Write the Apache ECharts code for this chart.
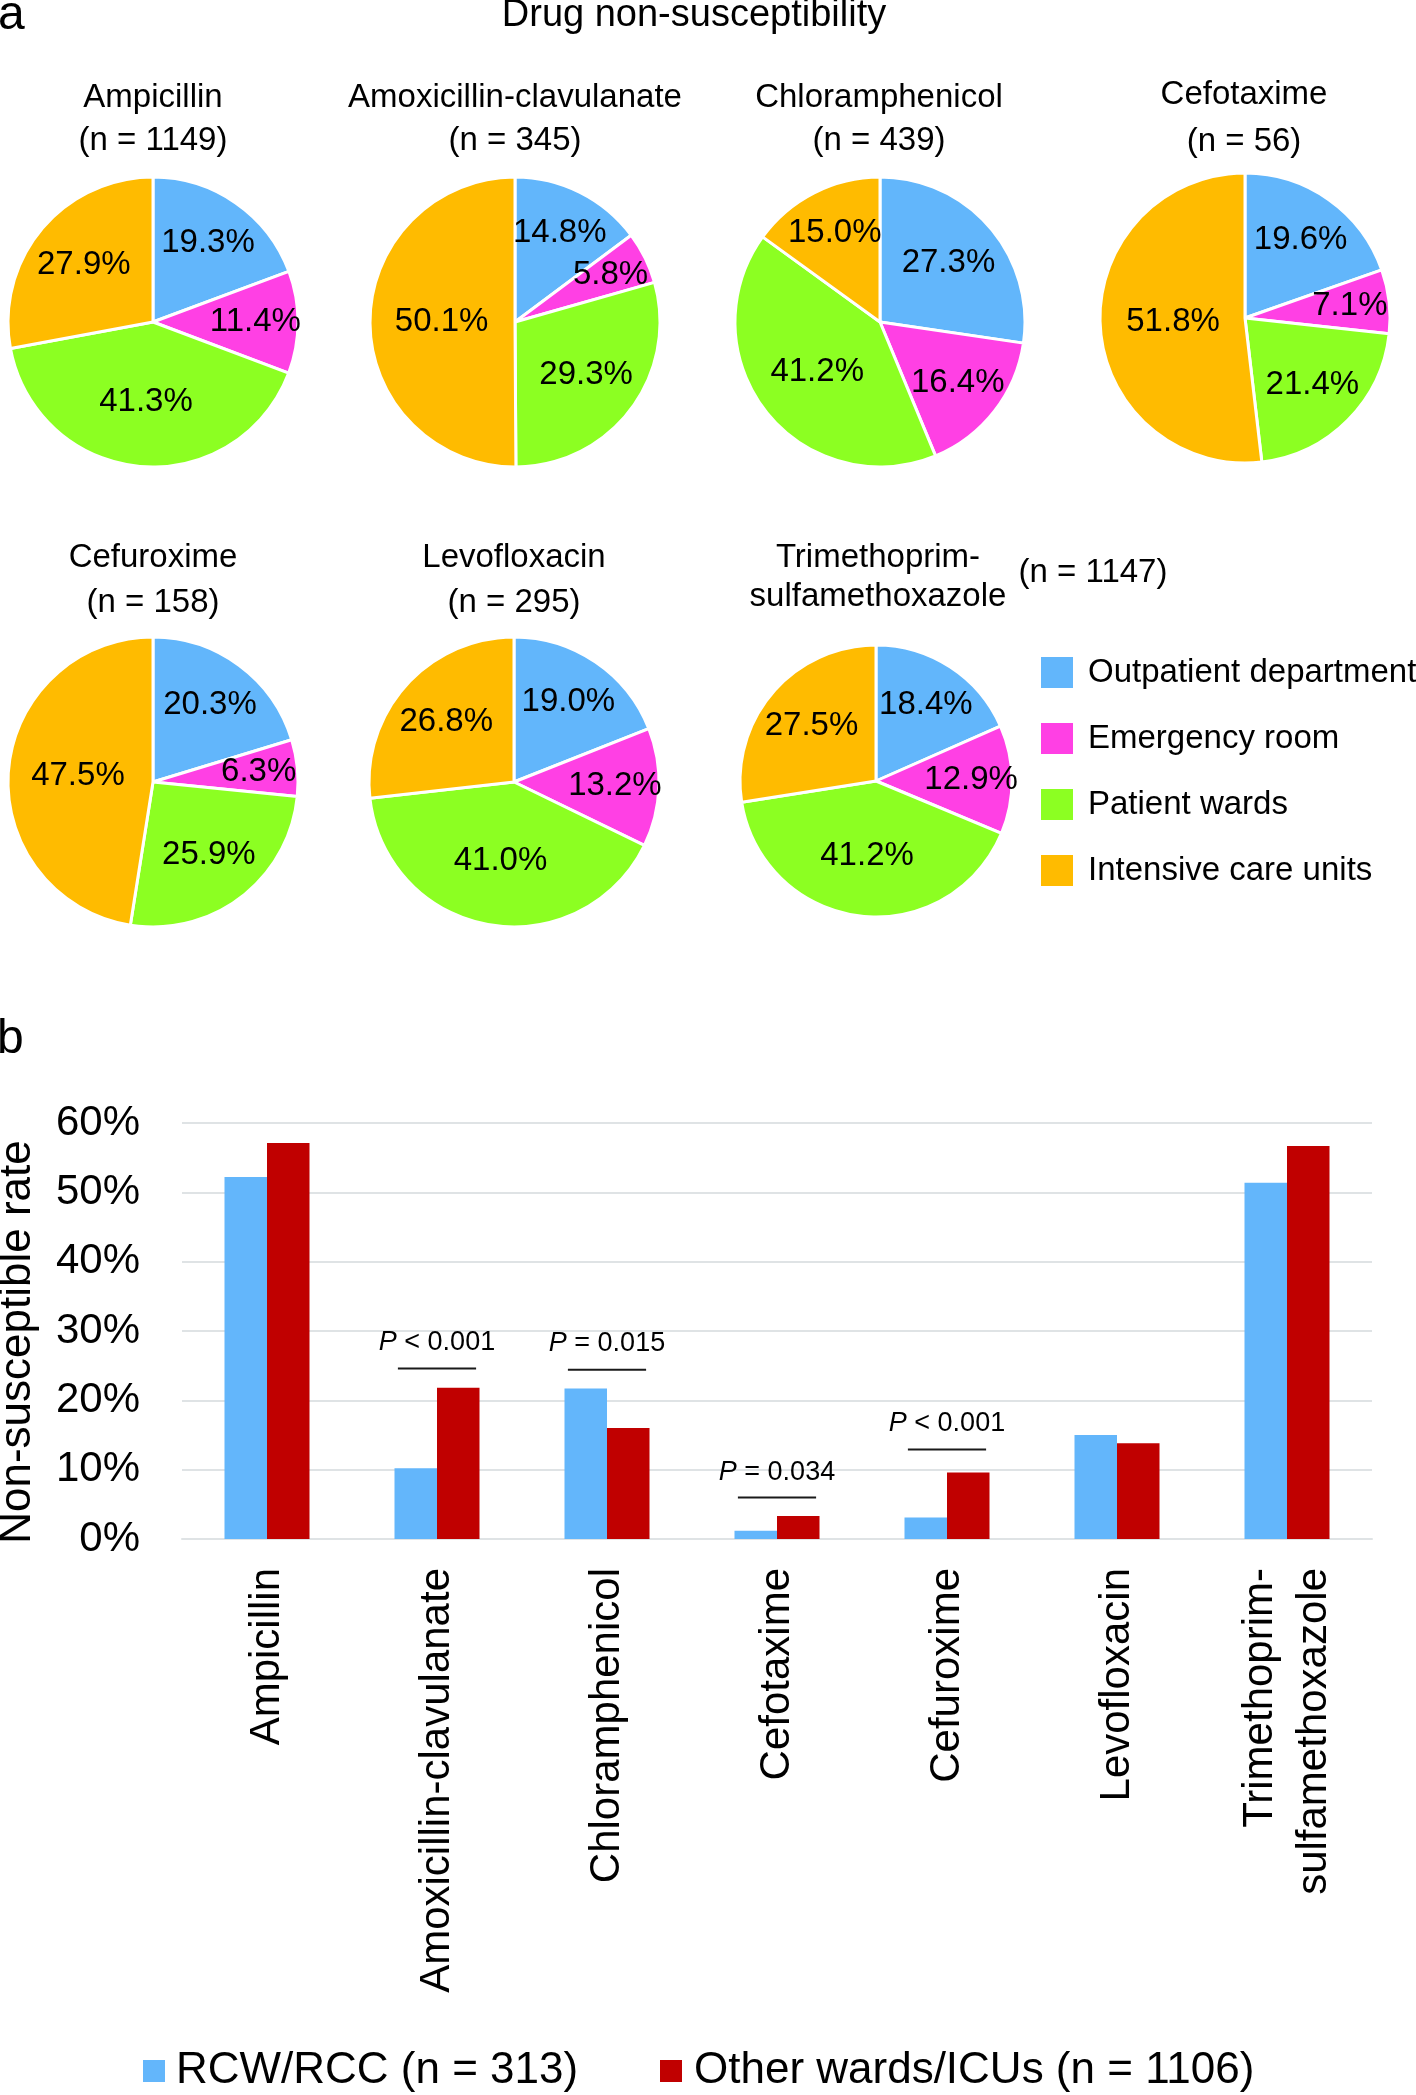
<!DOCTYPE html>
<html><head><meta charset="utf-8">
<script src="https://cdn.jsdelivr.net/npm/echarts@6/dist/echarts.min.js"></script>
<style>html,body{margin:0;padding:0;background:#fff}#c{width:1416px;height:2095px}</style>
</head><body><div id="c"></div>
<script>
const FONT = "'Liberation Sans', Arial, Helvetica, sans-serif";

// ---------- Panel a data ----------
const locations = ['Outpatient department', 'Emergency room', 'Patient wards', 'Intensive care units'];
const locationColors = ['#62b6fb', '#ff40e4', '#8cff22', '#ffbb00'];
const pieDrugs = ['Ampicillin', 'Amoxicillin-clavulanate', 'Chloramphenicol', 'Cefotaxime', 'Cefuroxime', 'Levofloxacin', 'Trimethoprim-\nsulfamethoxazole'];
const pieN = [1149, 345, 439, 56, 158, 295, 1147];
const ampicillinShares = [19.3, 11.4, 41.3, 27.9];
const amoxClavShares = [14.8, 5.8, 29.3, 50.1];
const chloramphenicolShares = [27.3, 16.4, 41.2, 15.0];
const cefotaximeShares = [19.6, 7.1, 21.4, 51.8];
const cefuroximeShares = [20.3, 6.3, 25.9, 47.5];
const levofloxacinShares = [19.0, 13.2, 41.0, 26.8];
const tmpSmxShares = [18.4, 12.9, 41.2, 27.5];
const pieShares = [ampicillinShares, amoxClavShares, chloramphenicolShares, cefotaximeShares, cefuroximeShares, levofloxacinShares, tmpSmxShares];

// ---------- Panel b data ----------
const barCategories = ['Ampicillin', 'Amoxicillin-clavulanate', 'Chloramphenicol', 'Cefotaxime', 'Cefuroxime', 'Levofloxacin', 'Trimethoprim-\nsulfamethoxazole'];
const groupNames = ['RCW/RCC (n = 313)', 'Other wards/ICUs (n = 1106)'];
const rcwRates = [52.2, 10.2, 21.7, 1.2, 3.1, 15.0, 51.4];
const otherRates = [57.1, 21.8, 16.0, 3.3, 9.6, 13.8, 56.7];
const yTicks = [0, 10, 20, 30, 40, 50, 60];
const pCategoryIndex = [1, 2, 3, 4];
const pLineLevel = [24.6, 24.4, 6.0, 12.9];
const pTextLevel = [28.4, 28.2, 9.6, 16.6];
const pText = ['< 0.001', '= 0.015', '= 0.034', '< 0.001'];

// ---------- layout (positions only) ----------
const pieLayout = [
  { c: [153, 322], r: 145 }, { c: [515, 322], r: 145 }, { c: [880, 322], r: 145 }, { c: [1245, 318], r: 145 },
  { c: [153, 782], r: 145 }, { c: [514, 782], r: 145 }, { c: [876, 781], r: 136 }
];
const titleLayout = [
  { x: 153, top: 76, lh: 43 }, { x: 515, top: 76, lh: 43 }, { x: 879, top: 76, lh: 43 }, { x: 1244, top: 71, lh: 47 },
  { x: 153, top: 535, lh: 45 }, { x: 514, top: 535, lh: 45 }, { x: 878, top: 538, lh: 39 }
];
const RING_MID = 0.62; // label ring midpoint as fraction of radius

const chart = echarts.init(document.getElementById('c'), null, { renderer: 'canvas' });

const titles = [
  { text: 'a', left: -2, top: -8, padding: 0, textStyle: { fontFamily: FONT, fontSize: 48, fontWeight: 'normal', color: '#000', lineHeight: 48 } },
  { text: 'Drug non-susceptibility', left: 694, textAlign: 'center', top: -3, padding: 0, textStyle: { fontFamily: FONT, fontSize: 38, fontWeight: 'normal', color: '#000', lineHeight: 38 } },
  { text: 'b', left: -3, top: 1016, padding: 0, textStyle: { fontFamily: FONT, fontSize: 48, fontWeight: 'normal', color: '#000', lineHeight: 48 } }
];
pieDrugs.forEach((d, i) => {
  const L = titleLayout[i];
  const txt = i === 6 ? d : d + '\n(n = ' + pieN[i] + ')';
  titles.push({ text: txt, left: L.x, textAlign: 'center', top: L.top, padding: 0,
    textStyle: { fontFamily: FONT, fontSize: 33, fontWeight: 'normal', color: '#000', lineHeight: L.lh } });
});
titles.push({ text: '(n = ' + pieN[6] + ')', left: 1093, textAlign: 'center', top: 556, padding: 0,
  textStyle: { fontFamily: FONT, fontSize: 33, fontWeight: 'normal', color: '#000', lineHeight: 33 } });

const series = [];
// visible slices
pieShares.forEach((vals, i) => {
  const L = pieLayout[i];
  series.push({
    type: 'pie', center: L.c, radius: L.r, startAngle: 90, clockwise: true,
    silent: true, animation: false,
    data: vals.map((v, k) => ({ name: locations[k], value: v, itemStyle: { color: locationColors[k] } })),
    itemStyle: { borderColor: '#fff', borderWidth: 3 },
    label: { show: false }, labelLine: { show: false }
  });
});
// label rings (transparent); labels are then pulled in/out along their own ray
// (big slices keep labels nearer the centre, small ones nearer the rim)
pieShares.forEach((vals, i) => {
  const L = pieLayout[i];
  series.push({
    type: 'pie', center: L.c, radius: [L.r * (2 * RING_MID - 1), L.r], startAngle: 90, clockwise: true,
    silent: true, animation: false, legendHoverLink: false,
    data: vals.map((v, k) => ({ name: locations[k], value: v })),
    itemStyle: { color: 'rgba(0,0,0,0)', borderWidth: 0 },
    label: { show: true, position: 'inside', fontFamily: FONT, fontSize: 33, color: '#000',
      textBorderWidth: 0, formatter: p => p.value.toFixed(1) + '%' },
    labelLine: { show: false },
    labelLayout: params => {
      const r = params.labelRect;
      const lx = r.x + r.width / 2, ly = r.y + r.height / 2;
      const share = vals[params.dataIndex];
      const f = Math.min(0.76, Math.max(0.46, 0.74 - 0.005 * share));
      const k = f / RING_MID;
      return { x: L.c[0] + (lx - L.c[0]) * k, y: L.c[1] + (ly - L.c[1]) * k, align: 'center', verticalAlign: 'middle' };
    }
  });
});

series.push({
  type: 'bar', name: groupNames[0], data: rcwRates, barWidth: '25%', barGap: '0%',
  itemStyle: { color: '#63b6fb' }, animation: false, silent: true
});
series.push({
  type: 'bar', name: groupNames[1], data: otherRates, barWidth: '25%', barGap: '0%',
  itemStyle: { color: '#c00000' }, animation: false, silent: true
});
series.push({
  type: 'custom', name: 'pvalues', coordinateSystem: 'cartesian2d', animation: false, silent: true, z: 5,
  data: pCategoryIndex.map((c, i) => [c, pLineLevel[i], pTextLevel[i]]),
  encode: { x: 0, y: 1 },
  renderItem: (params, api) => {
    const p = api.coord([api.value(0), api.value(1)]);
    const t = api.coord([api.value(0), api.value(2)]);
    const band = api.size([1, 0])[0];
    const half = band * 0.23;
    return {
      type: 'group', children: [
        { type: 'line', shape: { x1: p[0] - half, y1: p[1], x2: p[0] + half, y2: p[1] }, style: { stroke: '#1a1a1a', lineWidth: 2 } },
        { type: 'text', x: t[0], y: t[1], style: {
            text: '{i|P} ' + pText[params.dataIndex], align: 'center', verticalAlign: 'middle',
            fontFamily: FONT, fontSize: 27, fill: '#000',
            rich: { i: { fontStyle: 'italic', fontFamily: FONT, fontSize: 27, fill: '#000' } } } }
      ]
    };
  }
});

const option = {
  backgroundColor: '#fff',
  animation: false,
  title: titles,
  legend: [
    { orient: 'vertical', left: 1041, top: 656, padding: 0, itemWidth: 32, itemHeight: 31, itemGap: 33,
      icon: 'rect', data: locations, selectedMode: false,
      itemStyle: { borderWidth: 0 },
      textStyle: { fontFamily: FONT, fontSize: 33, color: '#000', lineHeight: 33, padding: [0, 0, 0, 10] } },
    { orient: 'horizontal', left: 143, top: 2049, padding: 0, itemWidth: 22, itemHeight: 22,
      icon: 'rect', data: [groupNames[0]], selectedMode: false, itemStyle: { borderWidth: 0 },
      textStyle: { fontFamily: FONT, fontSize: 44, color: '#000', lineHeight: 44, padding: [0, 0, 0, 6] } },
    { orient: 'horizontal', left: 660, top: 2049, padding: 0, itemWidth: 22, itemHeight: 22,
      icon: 'rect', data: [groupNames[1]], selectedMode: false, itemStyle: { borderWidth: 0 },
      textStyle: { fontFamily: FONT, fontSize: 44, color: '#000', lineHeight: 44, padding: [0, 0, 0, 7] } }
  ],
  grid: { left: 182, right: 44, top: 1123, bottom: 556, containLabel: false, outerBoundsMode: 'none' },
  xAxis: {
    type: 'category', data: barCategories,
    axisLine: { show: true, lineStyle: { color: '#dfe3e5', width: 2 } },
    axisTick: { show: false },
    axisLabel: { interval: 0, rotate: 90, margin: 29, fontFamily: FONT, fontSize: 42, color: '#000', lineHeight: 54 }
  },
  yAxis: {
    type: 'value', min: yTicks[0], max: yTicks[yTicks.length - 1], interval: 10,
    name: 'Non-susceptible rate', nameLocation: 'middle', nameRotate: 90, nameGap: 142,
    nameTextStyle: { fontFamily: FONT, fontSize: 44, color: '#000', lineHeight: 44, padding: [0, 22, 0, 0] },
    axisLine: { show: false }, axisTick: { show: false },
    axisLabel: { margin: 42, fontFamily: FONT, fontSize: 42, color: '#000', formatter: '{value}%' },
    splitLine: { show: true, lineStyle: { color: '#dfe3e5', width: 2 } }
  },
  series: series
};
chart.setOption(option);
</script>
</body></html>
